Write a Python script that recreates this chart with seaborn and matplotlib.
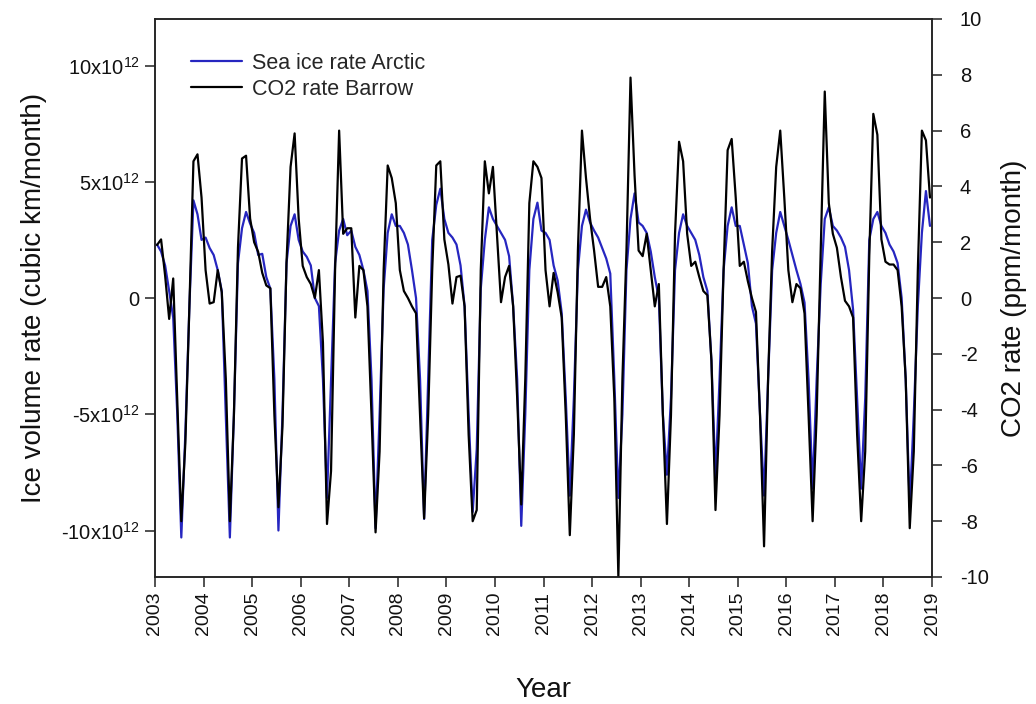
import numpy as np
import pandas as pd
import matplotlib
matplotlib.use("Agg")
import matplotlib.pyplot as plt
import seaborn as sns
from matplotlib.lines import Line2D

years = list(range(2003, 2019))

# Monthly Arctic sea-ice volume rate, in units of 10^12 (Jan..Dec per row)
ice_rate_e12 = [
    2.3, 2.0, 1.4, 0.3, -0.85, -5.0, -10.3, -5.8, -0.35, 4.2, 3.6, 2.5,   # 2003
    2.6, 2.15, 1.85, 1.2, 0.3, -5.1, -10.3, -5.0, 1.5, 3.0, 3.7, 3.2,      # 2004
    2.8, 1.85, 1.9, 0.9, 0.4, -3.5, -10.0, -5.0, 1.5, 3.1, 3.6, 2.5,       # 2005
    2.0, 1.77, 1.4, 0.0, -0.35, -3.5, -8.6, -3.5, 1.5, 2.9, 3.4, 2.7,      # 2006
    2.9, 2.2, 1.85, 1.2, 0.3, -3.5, -9.9, -5.0, 0.4, 2.8, 3.6, 3.1,        # 2007
    3.1, 2.8, 2.3, 1.2, 0.0, -3.5, -9.5, -3.5, 2.5, 4.0, 4.7, 3.4,         # 2008
    2.8, 2.6, 2.3, 1.4, -0.35, -5.0, -9.2, -6.5, 0.4, 2.5, 3.9, 3.4,       # 2009
    3.1, 2.8, 2.5, 1.8, -0.35, -3.5, -9.8, -5.0, 1.2, 3.4, 4.1, 2.9,       # 2010
    2.8, 2.5, 1.4, 0.75, -0.65, -4.3, -8.5, -4.3, 1.2, 3.1, 3.8, 3.25,     # 2011
    2.9, 2.6, 2.15, 1.7, 1.05, -3.5, -8.6, -5.0, 1.2, 3.4, 4.5, 3.25,      # 2012
    3.1, 2.8, 2.0, 0.9, 0.0, -5.0, -7.6, -4.3, 1.2, 2.8, 3.6, 3.1,         # 2013
    2.8, 2.5, 1.85, 0.9, 0.3, -2.7, -7.7, -3.5, 1.2, 3.1, 3.9, 3.1,        # 2014
    3.1, 2.3, 1.5, -0.35, -1.1, -5.0, -8.5, -3.5, 1.2, 2.8, 3.7, 3.1,      # 2015
    2.5, 1.85, 1.2, 0.6, -0.2, -3.5, -8.2, -3.5, 0.6, 3.4, 3.9, 3.1,       # 2016
    2.9, 2.6, 2.2, 1.2, -0.5, -4.3, -8.2, -4.3, 2.5, 3.4, 3.7, 3.1,        # 2017
    2.8, 2.3, 2.0, 1.5, 0.0, -3.5, -9.0, -5.0, -0.35, 2.8, 4.6, 3.1,       # 2018
]

# Monthly CO2 rate at Barrow, ppm/month (Jan..Dec per row)
co2_rate = [
    1.9, 2.1, 0.8, -0.75, 0.7, -3.7, -8.0, -5.2, -0.3, 4.9, 5.15, 3.6,     # 2003
    1.0, -0.2, -0.15, 1.0, 0.2, -2.9, -8.0, -4.2, 1.8, 5.0, 5.1, 2.85,     # 2004
    2.0, 1.65, 0.9, 0.45, 0.35, -4.2, -7.5, -4.6, 1.3, 4.7, 5.9, 2.85,     # 2005
    1.15, 0.75, 0.5, 0.0, 1.0, -1.6, -8.1, -6.2, 1.0, 6.0, 2.3, 2.5,       # 2006
    2.5, -0.7, 1.15, 1.0, -0.3, -4.2, -8.4, -5.5, 1.0, 4.75, 4.3, 3.4,     # 2007
    1.0, 0.25, 0.0, -0.3, -0.55, -4.2, -7.9, -4.2, 1.0, 4.75, 4.9, 2.1,    # 2008
    1.2, -0.2, 0.75, 0.8, -0.3, -4.9, -8.0, -7.6, 1.0, 4.9, 3.75, 4.7,     # 2009
    2.3, -0.15, 0.75, 1.15, -0.3, -3.6, -7.4, -2.9, 3.4, 4.9, 4.7, 4.3,    # 2010
    1.0, -0.3, 0.9, 0.2, -0.7, -4.2, -8.5, -4.9, 1.7, 6.0, 4.3, 2.85,      # 2011
    1.7, 0.4, 0.4, 0.75, -0.3, -3.6, -10.0, -2.9, 1.7, 7.9, 4.4, 1.7,      # 2012
    1.5, 2.3, 1.0, -0.3, 0.5, -4.2, -8.1, -4.2, 2.3, 5.6, 4.9, 2.3,        # 2013
    1.15, 1.3, 0.75, 0.25, 0.1, -2.25, -7.6, -4.2, 1.0, 5.3, 5.7, 3.6,     # 2014
    1.15, 1.3, 0.6, 0.0, -0.5, -4.2, -8.9, -2.9, 1.7, 4.7, 6.0, 3.6,       # 2015
    1.0, -0.15, 0.5, 0.35, -0.55, -4.2, -8.0, -4.2, 1.7, 7.4, 3.4, 2.3,    # 2016
    1.8, 0.75, -0.1, -0.3, -0.7, -4.9, -8.0, -5.5, 1.5, 6.6, 5.85, 2.1,    # 2017
    1.3, 1.2, 1.2, 1.0, -0.3, -2.9, -8.25, -5.5, 1.0, 6.0, 5.65, 3.6,      # 2018
]

x_ticks = list(range(2003, 2020))
left_ticks = [-10, -5, 0, 5, 10]
left_labels = [r"-10x10$^{12}$", r"-5x10$^{12}$", "0", r"5x10$^{12}$", r"10x10$^{12}$"]
right_ticks = list(range(-10, 11, 2))

sns.set_style("ticks")
plt.rcParams["font.family"] = ["Liberation Sans", "DejaVu Sans"]
plt.rcParams["mathtext.fontset"] = "custom"
plt.rcParams["mathtext.rm"] = "Liberation Sans"
plt.rcParams["mathtext.it"] = "Liberation Sans:italic"
plt.rcParams["mathtext.bf"] = "Liberation Sans:bold"
plt.rcParams["mathtext.default"] = "regular"

t = [y + (m + 0.5) / 12.0 for y in years for m in range(12)]
df = pd.DataFrame({
    "t": t,
    "ice": np.array(ice_rate_e12) * 1e12,
    "co2": co2_rate,
})

fig = plt.figure(figsize=(10.36, 7.04), dpi=100)
ax = fig.add_axes([155 / 1036, 1 - 577 / 704, 777 / 1036, 558 / 704])
ax2 = ax.twinx()

blue = "#2626c0"
sns.lineplot(data=df, x="t", y="ice", ax=ax, color=blue, lw=1.6, legend=False)
sns.lineplot(data=df, x="t", y="co2", ax=ax2, color="black", lw=1.6, legend=False)

ax.set_xlim(2003, 2019)
ax.set_ylim(-12e12, 12e12)
ax2.set_ylim(-10, 10)

ax.set_xticks(x_ticks)
ax.set_xticklabels([str(v) for v in x_ticks], rotation=90)
ax.set_yticks([v * 1e12 for v in left_ticks])
ax.set_yticklabels(left_labels)
ax2.set_yticks(right_ticks)
ax2.set_yticklabels([str(v) for v in right_ticks])

for a in (ax, ax2):
    for s in a.spines.values():
        s.set_color("#222222")
        s.set_linewidth(1.1)
    a.tick_params(direction="out", length=7, width=1.1, color="#222222",
                  labelsize=14, labelcolor="#111111")
    a.grid(False)
ax.tick_params(axis="y", labelsize=14.5, pad=4)
ax2.tick_params(axis="y", pad=13, labelsize=14.5)

ax.set_xlabel("Year", fontsize=20, labelpad=30, color="#111111")
ax.set_ylabel("Ice volume rate (cubic km/month)", fontsize=20, labelpad=10, color="#111111")
ax2.set_ylabel("CO2 rate (ppm/month)", fontsize=20, labelpad=9, color="#111111")

handles = [Line2D([], [], color=blue, lw=1.6), Line2D([], [], color="black", lw=1.6)]
ax2.legend(handles, ["Sea ice rate Arctic", "CO2 rate Barrow"], loc="upper left",
           bbox_to_anchor=(36 / 777, 1 - 34 / 558), frameon=False, fontsize=15.5,
           borderpad=0, borderaxespad=0, handlelength=2.35, handletextpad=0.5,
           labelspacing=0.22)

fig.savefig("out.png", dpi=100)
